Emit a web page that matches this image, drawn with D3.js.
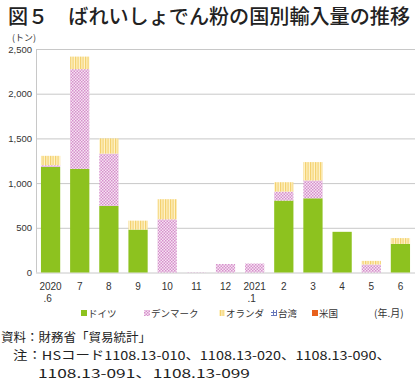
<!DOCTYPE html>
<html><head><meta charset="utf-8">
<script src="https://cdn.jsdelivr.net/npm/d3@7"></script>
<style>body{margin:0;background:#fff}text{font-family:"Noto Sans CJK JP","Noto Sans",sans-serif}</style>
</head><body>
<svg id="c" width="420" height="381"></svg>
<script>
const categories = ["2020\n.6","7","8","9","10","11","12","2021\n.1","2","3","4","5","6"];
const germany     = [1180,1160,745,480,0,0,0,0,805,830,455,0,320];
const denmark     = [20,1115,585,0,595,3,95,100,100,200,0,90,0];
const netherlands = [105,140,170,100,225,0,0,0,105,205,0,40,65];
const taiwan      = [0,0,0,0,0,0,0,0,0,0,0,0,0];
const usa         = [0,0,0,0,0,0,0,0,0,0,0,0,0];
const seriesNames = ["ドイツ","デンマーク","オランダ","台湾","米国"];
const yTicks = [0,500,1000,1500,2000,2500];

const svg = d3.select("#c");
const defs = svg.append("defs");
const pd = defs.append("pattern").attr("id","pDen").attr("patternUnits","userSpaceOnUse").attr("width",3).attr("height",3);
pd.append("rect").attr("width",3).attr("height",3).attr("fill","#f6e4f2");
pd.append("rect").attr("x",0).attr("y",0).attr("width",1.5).attr("height",1.5).attr("fill","#d690cc");
pd.append("rect").attr("x",1.5).attr("y",1.5).attr("width",1.5).attr("height",1.5).attr("fill","#d690cc");
const pn = defs.append("pattern").attr("id","pNet").attr("patternUnits","userSpaceOnUse").attr("width",2.5).attr("height",4);
pn.append("rect").attr("width",2.5).attr("height",4).attr("fill","#fff4cc");
pn.append("rect").attr("width",1.2).attr("height",4).attr("fill","#f3cf6a");
const pt = defs.append("pattern").attr("id","pTw").attr("patternUnits","userSpaceOnUse").attr("width",3).attr("height",3);
pt.append("rect").attr("width",3).attr("height",3).attr("fill","#fff");
pt.append("rect").attr("width",1).attr("height",3).attr("fill","#6677bb");
pt.append("rect").attr("width",3).attr("height",1).attr("fill","#6677bb");
const fills = ["#8dc21f","url(#pDen)","url(#pNet)","url(#pTw)","#e8601c"];

const m = {l:36, r:415, t:49, b:272.5};
const x = d3.scaleBand().domain(categories).range([m.l, m.r]).paddingInner(0.34).paddingOuter(0.17);
const y = d3.scaleLinear().domain([0,2500]).range([m.b, m.t]);

// title
svg.append("text").attr("x",8).attr("y",24).attr("font-size",20).attr("font-weight",500)
  .attr("fill","#222").attr("textLength",402).attr("lengthAdjust","spacingAndGlyphs")
  .text("図５　ばれいしょでん粉の国別輸入量の推移");
svg.append("text").attr("x",12).attr("y",41).attr("font-size",9).attr("fill","#333").text("(トン)");

// grid
const gy = svg.append("g").attr("transform",`translate(${m.l},0)`)
  .call(d3.axisLeft(y).tickValues(yTicks).tickSize(-(m.r-m.l)).tickFormat(d3.format(",")));
gy.select(".domain").remove();
gy.selectAll(".tick line").attr("stroke","#c8c8c8").attr("stroke-width",1);
gy.selectAll(".tick text").attr("x",-4).attr("font-size",9.5).attr("fill","#333")
  .style("font-family","'Liberation Sans',Arial,sans-serif");
svg.append("line").attr("x1",m.l+0.5).attr("x2",m.l+0.5).attr("y1",m.t).attr("y2",m.b).attr("stroke","#c8c8c8");

// stacks
const rows = categories.map((c,i)=>({cat:c, s0:germany[i], s1:denmark[i], s2:netherlands[i], s3:taiwan[i], s4:usa[i]}));
const stack = d3.stack().keys(["s0","s1","s2","s3","s4"])(rows);
svg.append("g").selectAll("g").data(stack).join("g").attr("fill",(d,i)=>fills[i])
  .selectAll("rect").data(d=>d).join("rect")
  .attr("x",d=>x(d.data.cat)).attr("width",x.bandwidth())
  .attr("y",d=>y(d[1])).attr("height",d=>Math.max(0,y(d[0])-y(d[1])));

// x labels
const xl = svg.append("g");
categories.forEach(c=>{
  const parts = c.split("\n");
  parts.forEach((p,j)=>{
    xl.append("text").attr("x",x(c)+x.bandwidth()/2 + (j==1?-3:0)).attr("y",290+j*12)
      .attr("text-anchor","middle").attr("font-size",10).attr("fill","#333")
      .style("font-family","'Liberation Sans',Arial,sans-serif").text(p);
  });
});

// legend
const legX = [81,144,219,271,312];
const lg = svg.append("g");
seriesNames.forEach((n,i)=>{
  lg.append("rect").attr("x",legX[i]).attr("y",310).attr("width",6).attr("height",6).attr("fill",fills[i]);
  lg.append("text").attr("x",legX[i]+7).attr("y",317).attr("font-size",9.5).attr("fill","#333").text(n);
});
svg.append("text").attr("x",374).attr("y",317).attr("font-size",10).attr("fill","#333").text("(年.月)");

// notes
svg.append("text").attr("x",1).attr("y",342).attr("font-size",12.5).attr("fill","#222").text("資料：財務省「貿易統計」");
svg.append("text").attr("x",13).attr("y",360).attr("font-size",12).attr("fill","#222")
  .attr("textLength",378).attr("lengthAdjust","spacingAndGlyphs").text("注：HSコード1108.13-010、1108.13-020、1108.13-090、");
svg.append("text").attr("x",38).attr("y",378).attr("font-size",12).attr("fill","#222")
  .attr("textLength",212).attr("lengthAdjust","spacingAndGlyphs").text("1108.13-091、1108.13-099");
</script>
</body></html>
